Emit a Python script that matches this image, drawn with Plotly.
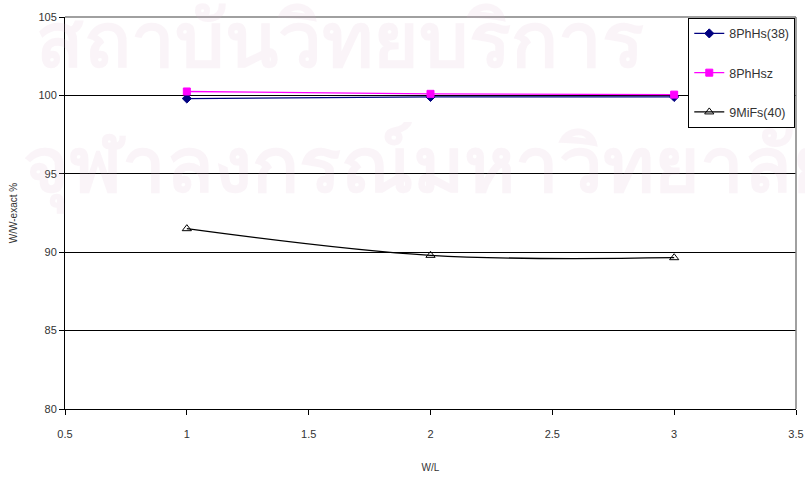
import plotly.graph_objects as go

# W/L ratio on the x axis
wl = [1, 2, 3]

# W / W-exact in percent for each model
ph_hs38 = [99.8, 99.9, 99.9]
ph_hsz = [100.25, 100.1, 100.05]
mi_fs40 = [91.5, 89.8, 89.65]

x_ticks = [0.5, 1, 1.5, 2, 2.5, 3, 3.5]
y_ticks = [80, 85, 90, 95, 100, 105]

series = [
    ("8PhHs(38)", ph_hs38, "#000080", "diamond", 7, "linear"),
    ("8PhHsz", ph_hsz, "#ff00ff", "square", 7, "linear"),
    ("9MiFs(40)", mi_fs40, "#000000", "triangle-up-open", 8, "spline"),
]

fig = go.Figure()
for i, (name, vals, color, symbol, size, shape) in enumerate(series):
    fig.add_trace(go.Scatter(
        x=wl, y=vals, name=name, mode="lines+markers",
        legendgroup=str(i),
        line=dict(color=color, width=1.3, shape=shape),
        marker=dict(symbol=symbol, size=size, color=color,
                    line=dict(color=color, width=1)),
    ))

# faint background watermark
wm_font = dict(size=78, color="rgba(220,180,205,0.14)",
               family="Noto Sans, DejaVu Sans, sans-serif")
fig.add_annotation(text="<b>สถาบันวิทยบริการ</b>", xref="paper", yref="paper",
                   x=0.376, y=1.09, showarrow=False, font=wm_font)
fig.add_annotation(text="<b>จุฬาลงกรณ์มหาวิทยาลัย</b>", xref="paper", yref="paper",
                   x=0.5, y=0.77, showarrow=False, font=wm_font)

font_main = "Liberation Sans, Arial, sans-serif"

fig.update_layout(
    width=805, height=482,
    margin=dict(l=65, r=9, t=17, b=73),
    paper_bgcolor="white", plot_bgcolor="rgba(0,0,0,0)",
    font=dict(family=font_main, size=11, color="#333333"),
    showlegend=True,
    legend=dict(
        x=0.999, y=0.998, xanchor="right", yanchor="top",
        bgcolor="white", bordercolor="#000000", borderwidth=1,
        font=dict(size=12.5, color="#333333"),
        tracegroupgap=20, itemwidth=30,
    ),
    xaxis=dict(
        range=[0.5, 3.5], tickvals=x_ticks, ticktext=[f"{v:g}" for v in x_ticks],
        showgrid=False, zeroline=False, automargin=False,
        showline=True, linecolor="#000000", linewidth=1,
        ticks="outside", ticklen=5, tickcolor="#000000",
        ticklabelstandoff=10,
        title=dict(text="W/L", font=dict(size=10, color="#333333"), standoff=24),
    ),
    yaxis=dict(
        range=[80, 105], tickvals=y_ticks, automargin=False,
        showgrid=True, gridcolor="#000000", gridwidth=1,
        zeroline=False,
        showline=True, linecolor="#000000", linewidth=1,
        ticks="outside", ticklen=5, tickcolor="#000000",
        title=dict(text="W/W-exact %", font=dict(size=10, color="#333333"), standoff=18),
    ),
)

# grey frame along the top and right of the plot area
fig.add_shape(type="line", xref="paper", yref="paper", x0=0, x1=1, y0=1, y1=1,
              line=dict(color="#808080", width=1.5))
fig.add_shape(type="line", xref="paper", yref="paper", x0=1, x1=1, y0=0, y1=1,
              line=dict(color="#808080", width=1.5))

fig.write_html("out.html")
